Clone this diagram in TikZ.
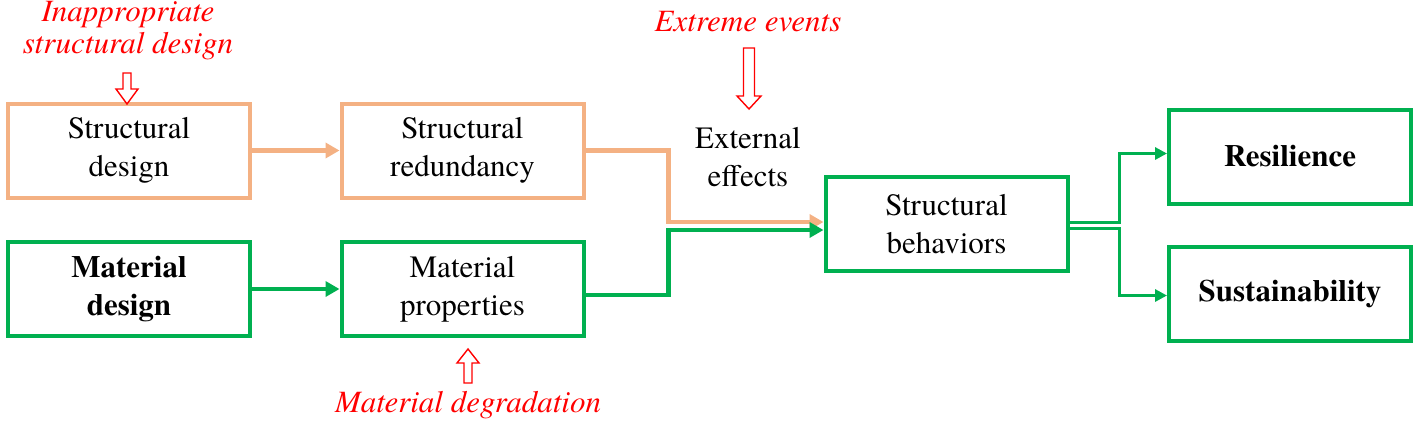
\documentclass[tikz,border=0pt]{standalone}
\usepackage{fontspec}
\setmainfont{texgyretermes}[Extension=.otf, UprightFont=*-regular, BoldFont=*-bold, ItalicFont=*-italic, BoldItalicFont=*-bolditalic]
\usetikzlibrary{arrows.meta}
\definecolor{orng}{HTML}{F4B183}
\definecolor{grn}{HTML}{00B050}
\begin{document}
\begin{tikzpicture}[x=0.5pt,y=-0.5pt,
 box/.style={draw, line width=2pt, minimum width=121pt, minimum height=47pt, align=center, font=\fontsize{15.5}{19}\selectfont, inner sep=0pt},
 obox/.style={box, draw=orng},
 gbox/.style={box, draw=grn},
 bbox/.style={gbox, font=\fontsize{15.5}{19}\selectfont\bfseries},
 lbl/.style={align=center, font=\fontsize{15.5}{19}\selectfont},
 cause/.style={text=red, font=\fontsize{15.5}{16}\selectfont\itshape, align=center},
 hollow/.style={draw=red, fill=white, line width=0.7pt},
 oline/.style={draw=orng, line width=2.2pt, -{Triangle[length=7pt,width=7.5pt]}},
 gline/.style={draw=grn, line width=2.2pt, -{Triangle[length=7pt,width=7.5pt]}},
 gthin/.style={draw=grn, line width=1.5pt, -{Triangle[length=6pt,width=6pt]}},
]
\useasboundingbox (0,0) rectangle (1416,423);
% boxes
\node[obox] (sd) at (129,150.5) {Structural\\design};
\node[obox] (sr) at (462.5,150.5) {Structural\\redundancy};
\node[bbox] (md) at (129,289) {Material\\design};
\node[gbox] (mp) at (462.5,289) {Material\\properties};
\node[gbox] (sb) at (946.5,224) {Structural\\behaviors};
\node[bbox] (res) at (1290,156.5) {Resilience};
\node[bbox] (sus) at (1290,293.5) {Sustainability};
% texts
\node[lbl] (ext) at (748,157) {External\\effects};
\node[cause] (ee) at (748,22) {Extreme events};
\node[cause] (isd) at (128,31) {Inappropriate\\structural design};
\node[cause] (mdg) at (468,405) {Material degradation};
% hollow arrows
\draw[hollow] (123,73) -- (131,73) -- (131,89) -- (138,89) -- (127,104) -- (116,89) -- (123,89) -- cycle;
\draw[hollow] (743.5,48) -- (754.5,48) -- (754.5,96) -- (761,96) -- (749,109) -- (737,96) -- (743.5,96) -- cycle;
\draw[hollow] (464,383) -- (472,383) -- (472,363) -- (479,363) -- (468,349) -- (457,363) -- (464,363) -- cycle;
% connectors
\draw[oline] (sd.east) -- (sr.west);
\draw[gline] (md.east) -- (mp.west);
\draw[oline] (sr.east) -- ++(83,0) |- ([yshift=1pt]sb.west);
\draw[gline] ([yshift=-3pt]mp.east) -- ++(83,0) |- ([yshift=-3pt]sb.west);
\draw[gthin] ([yshift=1pt]sb.east) -- ++(50,0) |- ([yshift=1.5pt]res.west);
\draw[gthin] ([yshift=-2pt]sb.east) -- ++(50,0) |- ([yshift=-1pt]sus.west);
\end{tikzpicture}
\end{document}
